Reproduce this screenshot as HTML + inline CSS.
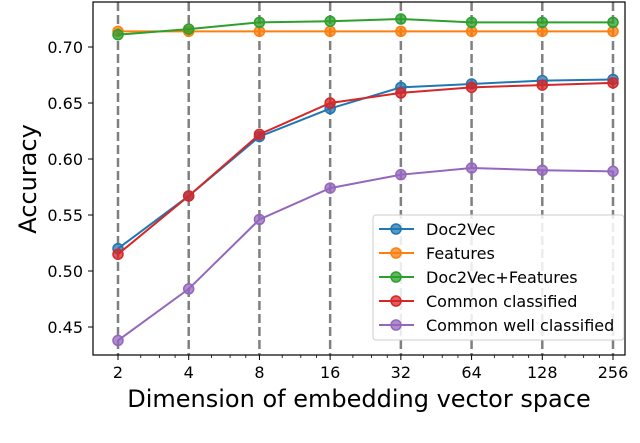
<!DOCTYPE html>
<html><head><style>body{margin:0;background:#fff}svg{display:block}text{font-family:"DejaVu Sans","Liberation Sans",sans-serif}</style></head>
<body>
<svg id="c" width="640" height="443" xmlns="http://www.w3.org/2000/svg"></svg>
<script>
const categories=["2","4","8","16","32","64","128","256"];
const yTicks=[0.45,0.50,0.55,0.60,0.65,0.70];
const seriesNames=["Doc2Vec","Features","Doc2Vec+Features","Common classified","Common well classified"];
const seriesColors=["#1f77b4","#ff7f0e","#2ca02c","#d62728","#9467bd"];
const doc2vec=[0.520,0.567,0.620,0.645,0.664,0.667,0.670,0.671];
const features=[0.714,0.714,0.714,0.714,0.714,0.714,0.714,0.714];
const doc2vecFeatures=[0.711,0.716,0.722,0.723,0.725,0.722,0.722,0.722];
const commonClassified=[0.515,0.567,0.622,0.650,0.659,0.664,0.666,0.668];
const commonWell=[0.438,0.484,0.546,0.574,0.586,0.592,0.590,0.589];
const allSeries=[doc2vec,features,doc2vecFeatures,commonClassified,commonWell];
const NS="http://www.w3.org/2000/svg";
const svg=document.getElementById('c');
const L=93,R=625,T=2,B=355;
const x=i=>118+i*(613-118)/(categories.length-1);
const y=v=>47+(0.70-v)*56/0.05;
function mk(t,a,p){const e=document.createElementNS(NS,t);for(const k in a)e.setAttribute(k,a[k]);(p||svg).appendChild(e);return e;}
categories.forEach((c,i)=>{
 const g=mk('line',{x1:x(i),x2:x(i),y1:T,y2:B,stroke:'#808080','stroke-width':2.5,'stroke-dasharray':'9,4'});
 
 
 const t=mk('line',{x1:x(i),x2:x(i),y1:B,y2:B+5,stroke:'#000','stroke-width':1});
 
 
 const l=mk('text',{x:x(i),y:B+23,'font-size':16,'text-anchor':'middle'});l.textContent=c;
 
 
 if(i<categories.length-1){for(let k=1;k<4;k++){const lx=x(i)+Math.log2(1+k/4)*(x(1)-x(0));mk('line',{x1:lx,x2:lx,y1:B,y2:B+3,stroke:'#000','stroke-width':0.8});}}
});
yTicks.forEach(v=>{
 const t=mk('line',{x1:L-5,x2:L,y1:y(v),y2:y(v),stroke:'#000','stroke-width':1});
 
 
 const l=mk('text',{x:L-10,y:y(v)+6,'font-size':16,'text-anchor':'end'});l.textContent=v.toFixed(2);
 
 
});
allSeries.forEach((s,si)=>{
 const g=mk('g',{});
 
 
 mk('polyline',{points:s.map((v,i)=>x(i)+','+y(v)).join(' '),fill:'none',stroke:seriesColors[si],'stroke-width':2},g);
 s.forEach((v,i)=>{const p=mk('circle',{cx:x(i),cy:y(v),r:5,fill:seriesColors[si],stroke:seriesColors[si],'stroke-width':1.5,'fill-opacity':0.75},g);
  
  });
});
const frame=mk('rect',{x:L,y:T,width:R-L,height:B-T,fill:'none',stroke:'#000','stroke-width':1.2});


const lg=mk('g',{});


mk('rect',{x:373,y:215,width:251,height:125,rx:3,fill:'#fff','fill-opacity':0.85,stroke:'#ccc'},lg);
seriesNames.forEach((n,i)=>{
 const yy=229+i*24;
 const e=mk('g',{},lg);
 
 
 mk('line',{x1:379,x2:414,y1:yy,y2:yy,stroke:seriesColors[i],'stroke-width':2},e);
 mk('circle',{cx:396,cy:yy,r:5,fill:seriesColors[i],'fill-opacity':0.75,stroke:seriesColors[i],'stroke-width':1.5},e);
 const t=mk('text',{x:426,y:yy+6,'font-size':16},e);t.textContent=n;
});
const xt=mk('text',{x:359,y:407,'font-size':24,'text-anchor':'middle'});xt.textContent='Dimension of embedding vector space';


const yt=mk('text',{x:0,y:0,'font-size':24,'text-anchor':'middle',transform:'translate(36,179) rotate(-90)'});yt.textContent='Accuracy';


</script>
</body></html>
